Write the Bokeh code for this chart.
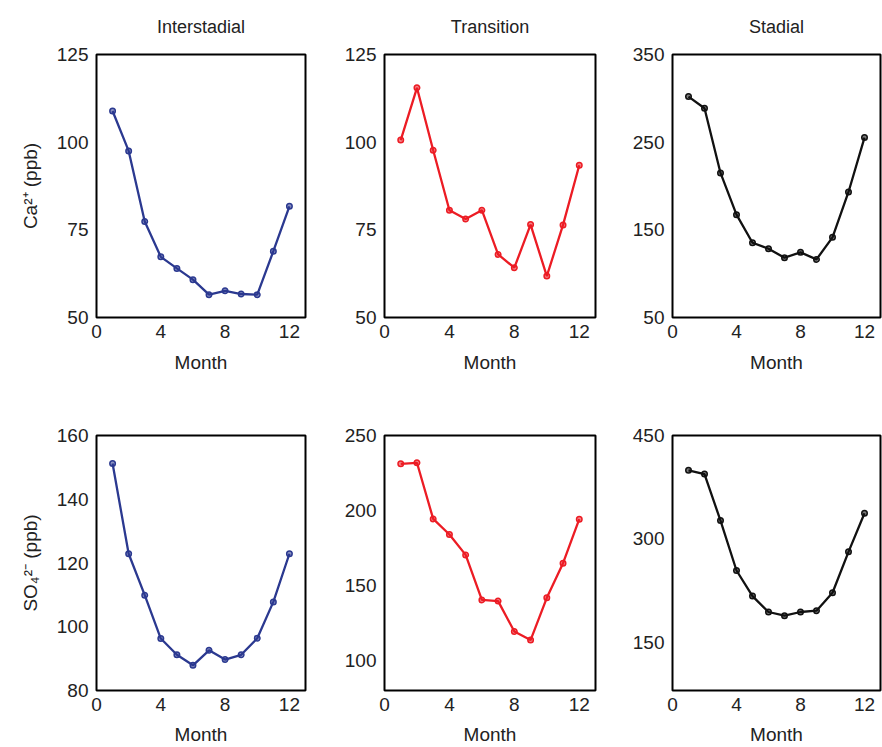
from bokeh.plotting import figure
from bokeh.layouts import column, row
from bokeh.models import Range1d, FixedTicker
from bokeh.embed import file_html
from bokeh.resources import INLINE

months = list(range(1, 13))

# Ca2+ (ppb)
ca_interstadial = [108.9, 97.5, 77.4, 67.3, 64.0, 60.8, 56.5, 57.6, 56.7, 56.5, 68.9, 81.7]
ca_transition = [100.6, 115.5, 97.7, 80.6, 78.1, 80.6, 68.0, 64.2, 76.5, 61.8, 76.4, 93.4]
ca_stadial = [302.0, 288.7, 214.9, 167.3, 135.3, 128.4, 118.2, 124.3, 116.3, 141.4, 193.2, 255.2]

# SO4 2- (ppb)
so4_interstadial = [151.2, 122.9, 109.9, 96.3, 91.2, 87.9, 92.6, 89.7, 91.2, 96.4, 107.8, 122.9]
so4_transition = [231.1, 231.8, 194.4, 184.0, 170.4, 140.4, 139.6, 119.3, 113.6, 141.8, 164.9, 194.2]
so4_stadial = [399.4, 394.0, 326.5, 254.1, 217.0, 193.9, 188.5, 193.9, 195.8, 221.8, 281.2, 337.1]

titles = ["Interstadial", "Transition", "Stadial"]
x_ticks = [0, 4, 8, 12]
ca_yticks = [[50, 75, 100, 125], [50, 75, 100, 125], [50, 150, 250, 350]]
so4_yticks = [[80, 100, 120, 140, 160], [100, 150, 200, 250], [150, 300, 450]]
ca_yranges = [(50, 125), (50, 125), (50, 350)]
so4_yranges = [(80, 160), (80, 250), (80, 450)]

colors = ["#2B3990", "#EC1C24", "#111111"]
FONT = "Liberation Sans"


def make_panel(xs, ys, color, yr, yt, width, height, bl, br, bt, bb,
               xlab_standoff, title=None, ylabel=None):
    p = figure(width=width, height=height, output_backend="svg",
               toolbar_location=None, x_range=Range1d(0, 13),
               y_range=Range1d(*yr), min_border_left=bl, min_border_right=br,
               min_border_top=bt, min_border_bottom=bb)
    if title:
        p.title.text = title
        p.title.align = "center"
        p.title.vertical_align = "top"
        p.title.text_font = FONT
        p.title.text_font_size = "18px"
        p.title.text_font_style = "normal"
        p.title.text_color = "#222222"
        p.title.standoff = 32
    p.grid.visible = False
    p.outline_line_color = "black"
    p.outline_line_width = 2
    p.outline_line_alpha = 1
    p.background_fill_color = "white"
    p.border_fill_color = "white"
    for ax in (p.xaxis[0], p.yaxis[0]):
        ax.axis_line_color = None
        ax.major_tick_line_color = None
        ax.minor_tick_line_color = None
        ax.major_tick_out = 0
        ax.major_tick_in = 0
        ax.minor_tick_out = 0
        ax.minor_tick_in = 0
        ax.major_label_text_font = FONT
        ax.major_label_text_font_size = "19px"
        ax.major_label_text_color = "#222222"
        ax.axis_label_text_font = FONT
        ax.axis_label_text_font_size = "19px"
        ax.axis_label_text_font_style = "normal"
        ax.axis_label_text_color = "#222222"
    p.xaxis.ticker = FixedTicker(ticks=x_ticks)
    p.yaxis.ticker = FixedTicker(ticks=yt)
    p.xaxis.axis_label = "Month"
    p.xaxis.major_label_standoff = 7
    p.xaxis.axis_label_standoff = xlab_standoff
    p.yaxis.major_label_standoff = 8
    if ylabel:
        p.yaxis.axis_label = ylabel
        p.yaxis.axis_label_standoff = 13
    p.line(xs, ys, line_color=color, line_width=2.3)
    p.scatter(xs, ys, size=5.5, line_color=color, fill_color=color,
              fill_alpha=0.55, line_width=1.5)
    return p


lefts = [96, 60, 58]
rights = [19, 19, 2]
frame_w = [209, 211, 208]

top_data = [ca_interstadial, ca_transition, ca_stadial]
bot_data = [so4_interstadial, so4_transition, so4_stadial]

top_row = []
bot_row = []
for i in range(3):
    w = lefts[i] + frame_w[i] + rights[i]
    top_row.append(make_panel(months, top_data[i], colors[i], ca_yranges[i],
                              ca_yticks[i], w, 54 + 263 + 60,
                              lefts[i], rights[i], 54, 60, 11,
                              title=titles[i],
                              ylabel="Ca²⁺ (ppb)" if i == 0 else None))
    bot_row.append(make_panel(months, bot_data[i], colors[i], so4_yranges[i],
                              so4_yticks[i], w, 58 + 255 + 57,
                              lefts[i], rights[i], 58, 57, 10,
                              ylabel="SO₄²⁻ (ppb)" if i == 0 else None))

layout = column(row(*top_row), row(*bot_row))
open("out.html", "w").write(file_html(layout, INLINE))
